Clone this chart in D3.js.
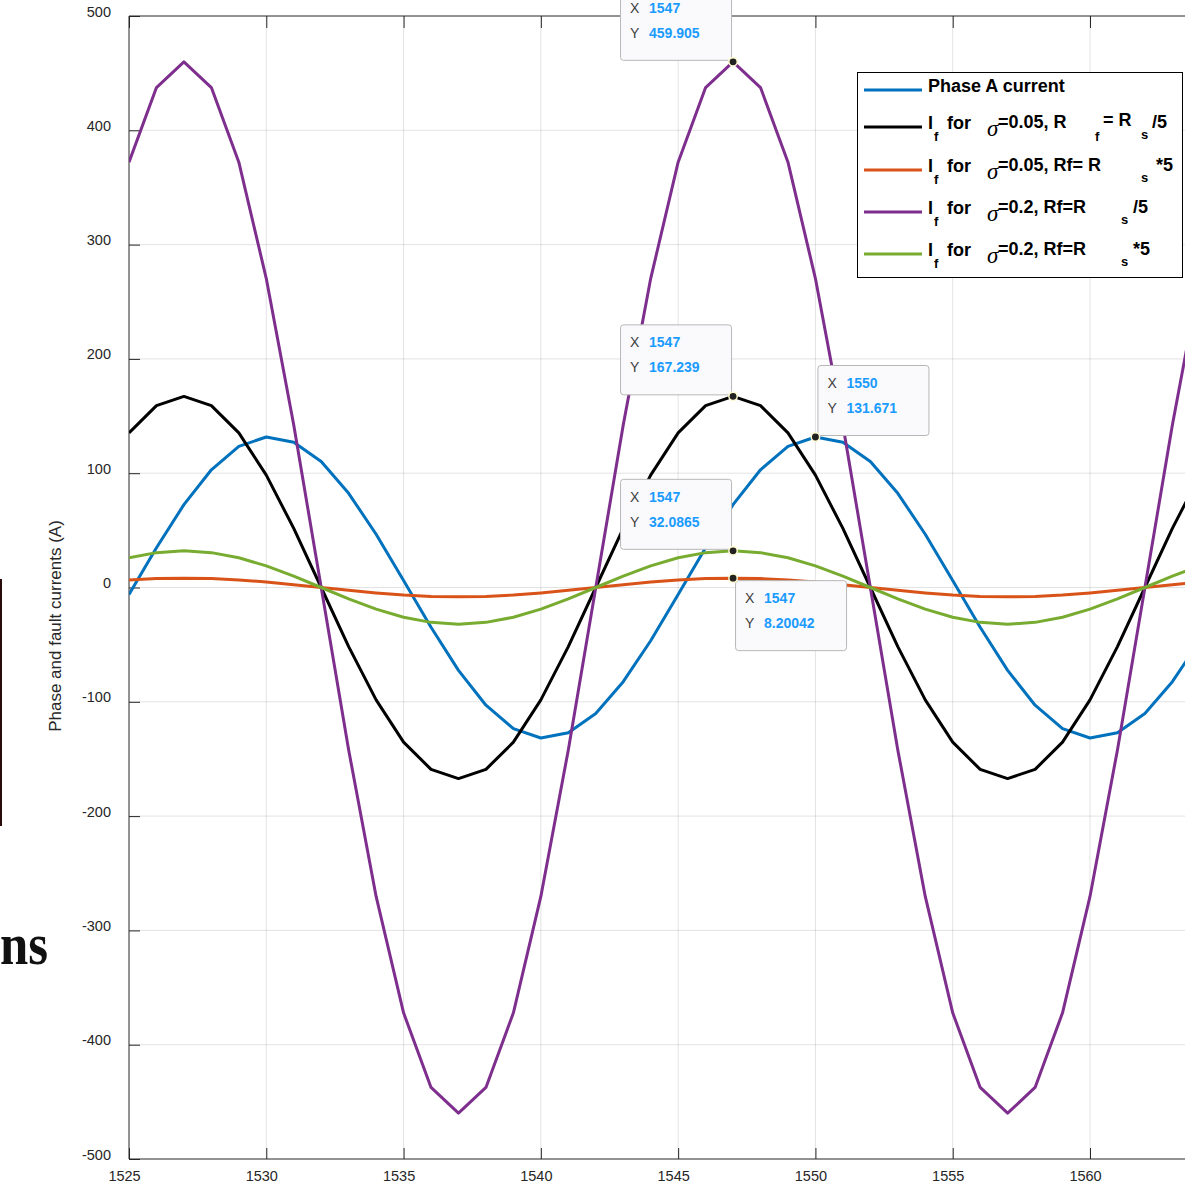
<!DOCTYPE html>
<html lang="en">
<head>
<meta charset="UTF-8">
<title>Phase and fault currents</title>
<script src="https://d3js.org/d3.v7.min.js"></script>
<style>
    body { margin: 0; background: #fff; overflow: hidden; }
    svg { display: block; font-family: "Liberation Sans", Arial, sans-serif; }
</style>
</head>
<body>
<div id="chart"></div>
<script>
// sample times
const times = [1525, 1526, 1527, 1528, 1529, 1530, 1531, 1532, 1533, 1534,
               1535, 1536, 1537, 1538, 1539, 1540, 1541, 1542, 1543, 1544,
               1545, 1546, 1547, 1548, 1549, 1550, 1551, 1552, 1553, 1554,
               1555, 1556, 1557, 1558, 1559, 1560, 1561, 1562, 1563, 1564];

// Phase A current
const phaseA = [-6.2, 34.8, 72.5, 103.0, 123.5, 131.7, 127.1, 110.2, 82.4, 46.6,
                6.2, -34.8, -72.5, -103.0, -123.5, -131.7, -127.1, -110.2, -82.4, -46.6,
                -6.2, 34.8, 72.5, 103.0, 123.5, 131.7, 127.1, 110.2, 82.4, 46.6,
                6.2, -34.8, -72.5, -103.0, -123.5, -131.7, -127.1, -110.2, -82.4, -46.6];
// If, sigma=0.05, Rf=Rs/5
const ifLowSmallR = [135.3, 159.1, 167.2, 159.1, 135.3, 98.3, 51.7, 0, -51.7, -98.3,
                     -135.3, -159.1, -167.2, -159.1, -135.3, -98.3, -51.7, 0, 51.7, 98.3,
                     135.3, 159.1, 167.2, 159.1, 135.3, 98.3, 51.7, 0, -51.7, -98.3,
                     -135.3, -159.1, -167.2, -159.1, -135.3, -98.3, -51.7, 0, 51.7, 98.3];
// If, sigma=0.05, Rf=Rs*5
const ifLowBigR = [6.6, 7.8, 8.2, 7.8, 6.6, 4.8, 2.5, 0, -2.5, -4.8,
                   -6.6, -7.8, -8.2, -7.8, -6.6, -4.8, -2.5, 0, 2.5, 4.8,
                   6.6, 7.8, 8.2, 7.8, 6.6, 4.8, 2.5, 0, -2.5, -4.8,
                   -6.6, -7.8, -8.2, -7.8, -6.6, -4.8, -2.5, 0, 2.5, 4.8];
// If, sigma=0.2, Rf=Rs/5
const ifHighSmallR = [372.1, 437.4, 459.9, 437.4, 372.1, 270.3, 142.1, 0, -142.1, -270.3,
                      -372.1, -437.4, -459.9, -437.4, -372.1, -270.3, -142.1, 0, 142.1, 270.3,
                      372.1, 437.4, 459.9, 437.4, 372.1, 270.3, 142.1, 0, -142.1, -270.3,
                      -372.1, -437.4, -459.9, -437.4, -372.1, -270.3, -142.1, 0, 142.1, 270.3];
// If, sigma=0.2, Rf=Rs*5
const ifHighBigR = [26.0, 30.5, 32.1, 30.5, 26.0, 18.9, 9.9, 0, -9.9, -18.9,
                    -26.0, -30.5, -32.1, -30.5, -26.0, -18.9, -9.9, 0, 9.9, 18.9,
                    26.0, 30.5, 32.1, 30.5, 26.0, 18.9, 9.9, 0, -9.9, -18.9,
                    -26.0, -30.5, -32.1, -30.5, -26.0, -18.9, -9.9, 0, 9.9, 18.9];

const xTicks = [1525, 1530, 1535, 1540, 1545, 1550, 1555, 1560];
const yTicks = [-500, -400, -300, -200, -100, 0, 100, 200, 300, 400, 500];

// data tips
const tipX = [1547, 1547, 1550, 1547, 1547];
const tipY = ["459.905", "167.239", "131.671", "32.0865", "8.20042"];
const tipSide = ["upleft", "upleft", "upright", "upleft", "downright"];

const series = [
    { values: phaseA, color: "#0072BD" },
    { values: ifLowSmallR, color: "#000000" },
    { values: ifLowBigR, color: "#D95319" },
    { values: ifHighSmallR, color: "#7E2F8E" },
    { values: ifHighBigR, color: "#77AC30" }
];

const width = 1185, height = 1193;
const plot = { left: 129, top: 16, bottom: 1159 };
const unit = (1090 - 129) / 35;

const svg = d3.select("#chart").append("svg")
    .attr("width", width)
    .attr("height", height);

const x = d3.scaleLinear().domain([1525, 1565]).range([plot.left, plot.left + 40 * unit]);
const y = d3.scaleLinear().domain([-500, 500]).range([plot.bottom, plot.top]);

// leftover bits of the surrounding page
svg.append("rect").attr("x", 0).attr("y", 579).attr("width", 2).attr("height", 247).attr("fill", "#2a0b0b");
svg.append("text")
    .attr("x", 0).attr("y", 964)
    .attr("textLength", 48)
    .attr("lengthAdjust", "spacingAndGlyphs")
    .style("font-family", "'Liberation Serif', 'DejaVu Serif', serif")
    .style("font-weight", "bold")
    .style("font-size", "60px")
    .attr("fill", "#111")
    .text("ns");

svg.append("defs").append("clipPath").attr("id", "clip")
    .append("rect")
    .attr("x", plot.left).attr("y", plot.top)
    .attr("width", width - plot.left).attr("height", plot.bottom - plot.top);

// grid
const grid = svg.append("g").attr("stroke", "#262626").attr("stroke-opacity", 0.13);
grid.selectAll("line.gx").data(xTicks.slice(1)).join("line")
    .attr("x1", d => x(d)).attr("x2", d => x(d))
    .attr("y1", plot.top).attr("y2", plot.bottom);
grid.selectAll("line.gy").data(yTicks.slice(1, -1)).join("line")
    .attr("x1", plot.left).attr("x2", width)
    .attr("y1", d => y(d)).attr("y2", d => y(d));

// axes
const axisColor = "#262626";
const plain = d => String(d);
const yAxis = svg.append("g")
    .attr("transform", `translate(${plot.left},0)`)
    .call(d3.axisLeft(y).tickValues(yTicks).tickFormat(plain).tickSizeInner(-11).tickSizeOuter(0).tickPadding(18));
const xAxis = svg.append("g")
    .attr("transform", `translate(0,${plot.bottom})`)
    .call(d3.axisBottom(x).tickValues(xTicks).tickFormat(plain).tickSizeInner(-11).tickSizeOuter(0).tickPadding(12));
const xTop = svg.append("g")
    .attr("transform", `translate(0,${plot.top})`)
    .call(d3.axisTop(x).tickValues(xTicks).tickSizeInner(-12).tickSizeOuter(0).tickFormat(""));

[yAxis, xAxis, xTop].forEach(a => {
    a.select(".domain").remove();
    a.selectAll("line").attr("stroke", axisColor);
    a.selectAll("text")
        .attr("fill", axisColor)
        .style("font-family", "'Liberation Sans', Arial, sans-serif")
        .style("font-size", "14.5px");
});
yAxis.selectAll("text").attr("dy", "0.0em");
xAxis.selectAll("text").attr("dx", -5).attr("dy", "0.71em");

svg.append("line").attr("x1", plot.left).attr("x2", plot.left)
    .attr("y1", plot.top).attr("y2", plot.bottom).attr("stroke", axisColor);
svg.append("line").attr("x1", plot.left).attr("x2", width)
    .attr("y1", plot.bottom).attr("y2", plot.bottom).attr("stroke", axisColor);
svg.append("line").attr("x1", plot.left).attr("x2", width)
    .attr("y1", plot.top).attr("y2", plot.top).attr("stroke", axisColor);

svg.append("text")
    .attr("transform", "translate(61,626) rotate(-90)")
    .attr("text-anchor", "middle")
    .attr("fill", axisColor)
    .style("font-size", "17px")
    .text("Phase and fault currents (A)");

// series lines
const line = d3.line().x((d, i) => x(times[i])).y(d => y(d));
svg.append("g").attr("clip-path", "url(#clip)")
    .selectAll("path")
    .data(series)
    .join("path")
    .attr("d", d => line(d.values))
    .attr("fill", "none")
    .attr("stroke", d => d.color)
    .attr("stroke-width", 3)
    .attr("stroke-linejoin", "round");

// data tips
const tipW = 111, tipH = 70;
tipX.forEach((tx, i) => {
    const px = x(tx), py = y(+tipY[i]);
    let bx, by;
    if (tipSide[i] === "upleft") { bx = px - 2 - tipW; by = py - 2 - tipH; }
    else if (tipSide[i] === "upright") { bx = px + 2; by = py - 2 - tipH; }
    else { bx = px + 2; by = py + 2; }
    const g = svg.append("g");
    g.append("rect")
        .attr("x", bx + 0.5).attr("y", by + 0.5)
        .attr("width", tipW).attr("height", tipH)
        .attr("rx", 3)
        .attr("fill", "#fafafd")
        .attr("stroke", "#b7b7b7");
    [["X", String(tx)], ["Y", tipY[i]]].forEach((row, j) => {
        g.append("text")
            .attr("x", bx + 10).attr("y", by + 23 + j * 25)
            .attr("fill", "#404040")
            .style("font-size", "14px")
            .text(row[0]);
        g.append("text")
            .attr("x", bx + 29).attr("y", by + 23 + j * 25)
            .attr("fill", "#1a9bff")
            .style("font-size", "14px")
            .style("font-weight", "bold")
            .text(row[1]);
    });
    g.append("circle")
        .attr("cx", px).attr("cy", py).attr("r", 4.2)
        .attr("fill", "#222")
        .attr("stroke", "#fffbd0")
        .attr("stroke-width", 1.5);
});

// legend
const legend = svg.append("g");
legend.append("rect")
    .attr("x", 857.5).attr("y", 72.5)
    .attr("width", 325).attr("height", 205)
    .attr("fill", "#fff").attr("stroke", "#000");

const legendRows = [
    { y: 90, parts: [["Phase A current", 928, 0, "main"]] },
    { y: 127, parts: [["I", 928, 0, "main"], ["f", 934, 12, "sub"], ["for", 947, 0, "main"], ["\u03C3", 987, 7, "sigma"],
        ["=0.05, R", 998, -1, "main"], ["f", 1095, 12, "sub"], ["= R", 1103, -3, "main"], ["s", 1141, 10, "sub"], ["/5", 1152, -1, "main"]] },
    { y: 170, parts: [["I", 928, 0, "main"], ["f", 934, 12, "sub"], ["for", 947, 0, "main"], ["\u03C3", 987, 7, "sigma"],
        ["=0.05, Rf= R", 998, -1, "main"], ["s", 1141, 10, "sub"], ["*5", 1156, -1, "main"]] },
    { y: 212, parts: [["I", 928, 0, "main"], ["f", 934, 12, "sub"], ["for", 947, 0, "main"], ["\u03C3", 987, 7, "sigma"],
        ["=0.2, Rf=R", 998, -1, "main"], ["s", 1121, 10, "sub"], ["/5", 1133, -1, "main"]] },
    { y: 254, parts: [["I", 928, 0, "main"], ["f", 934, 12, "sub"], ["for", 947, 0, "main"], ["\u03C3", 987, 7, "sigma"],
        ["=0.2, Rf=R", 998, -1, "main"], ["s", 1121, 10, "sub"], ["*5", 1133, -1, "main"]] }
];

legendRows.forEach((row, i) => {
    legend.append("line")
        .attr("x1", 864).attr("x2", 922)
        .attr("y1", row.y).attr("y2", row.y)
        .attr("stroke", series[i].color)
        .attr("stroke-width", 3);
    const base = row.y + 2;
    row.parts.forEach(p => {
        const t = legend.append("text")
            .attr("x", p[1]).attr("y", base + p[2])
            .attr("fill", "#000")
            .text(p[0]);
        if (p[3] === "main") t.style("font-size", "18px").style("font-weight", "bold");
        else if (p[3] === "sub") t.style("font-size", "13px").style("font-weight", "bold");
        else t.style("font-family", "'Liberation Serif', 'DejaVu Serif', serif")
              .style("font-style", "italic").style("font-size", "23px");
    });
});
</script>
</body>
</html>
